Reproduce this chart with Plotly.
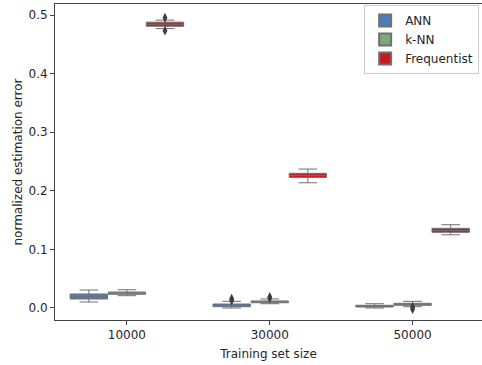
import plotly.graph_objects as go

categories = ["10000", "30000", "50000"]
series = ["ANN", "k-NN", "Frequentist"]
colors = ["#4a7dba", "#7aab77", "#c8191e"]

# per series, per category box statistics
q1 = {
    "ANN": [0.0154, 0.0022, 0.0017],
    "k-NN": [0.0234, 0.0090, 0.0046],
    "Frequentist": [0.4810, 0.2230, 0.1292],
}
median = {
    "ANN": [0.0195, 0.0045, 0.0032],
    "k-NN": [0.0255, 0.0105, 0.0063],
    "Frequentist": [0.4845, 0.2265, 0.1325],
}
q3 = {
    "ANN": [0.0239, 0.0068, 0.0046],
    "k-NN": [0.0273, 0.0120, 0.0080],
    "Frequentist": [0.4880, 0.2299, 0.1360],
}
lower = {
    "ANN": [0.0102, 0.0000, 0.0000],
    "k-NN": [0.0210, 0.0073, 0.0022],
    "Frequentist": [0.4770, 0.2138, 0.1250],
}
upper = {
    "ANN": [0.0307, 0.0114, 0.0073],
    "k-NN": [0.0312, 0.0154, 0.0114],
    "Frequentist": [0.4915, 0.2372, 0.1422],
}
# outliers: (category index, value)
outliers = {
    "ANN": [(1, 0.0130), (1, 0.0160)],
    "k-NN": [(1, 0.0170), (1, 0.0188), (2, 0.0015), (2, -0.0020)],
    "Frequentist": [(0, 0.4955), (0, 0.4735)],
}

y_ticks = [0.0, 0.1, 0.2, 0.3, 0.4, 0.5]

group_width = 0.8
n = len(series)
bw = group_width / n
fig = go.Figure()
for i, s in enumerate(series):
    off = -group_width / 2 + bw * (i + 0.5)
    xs = [k + off for k in range(len(categories))]
    fig.add_trace(go.Box(
        name=s, x=xs, q1=q1[s], median=median[s], q3=q3[s],
        lowerfence=lower[s], upperfence=upper[s],
        width=bw * 0.98, whiskerwidth=0.5,
        fillcolor=colors[i], line=dict(color="#707070", width=1),
        boxpoints=False, showlegend=True,
    ))
for i, s in enumerate(series):
    off = -group_width / 2 + bw * (i + 0.5)
    pts = outliers[s]
    fig.add_trace(go.Scatter(
        x=[k + off for k, v in pts], y=[v for k, v in pts], mode="markers",
        marker=dict(symbol="diamond-tall", size=7, color="#3d3d3d"),
        showlegend=False, hoverinfo="skip",
    ))

font = dict(family="DejaVu Sans", size=12, color="#262626")
axis_common = dict(
    showline=True, linecolor="#444", linewidth=1, mirror=True,
    ticks="outside", ticklen=4, tickcolor="#444", showgrid=False, zeroline=False,
    tickfont=font,
)
fig.update_xaxes(
    range=[-0.5035, 2.486], tickvals=list(range(len(categories))), ticktext=categories,
    title=dict(text="Training set size", font=font, standoff=8),
    **axis_common,
)
fig.update_yaxes(
    range=[-0.0205, 0.519], tickvals=y_ticks, ticktext=[f"{v:.1f}" for v in y_ticks],
    title=dict(text="normalized estimation error", font=font, standoff=3),
    **axis_common,
)
fig.update_layout(
    width=482, height=365,
    margin=dict(l=55, r=0, t=4, b=45),
    plot_bgcolor="white", paper_bgcolor="white",
    font=font,
    legend=dict(
        x=0.724, y=0.997, xanchor="left", yanchor="top",
        bgcolor="white", bordercolor="#cccccc", borderwidth=1,
        font=font, tracegroupgap=0, itemsizing="constant",
    ),
)
fig.write_html("out.html")
